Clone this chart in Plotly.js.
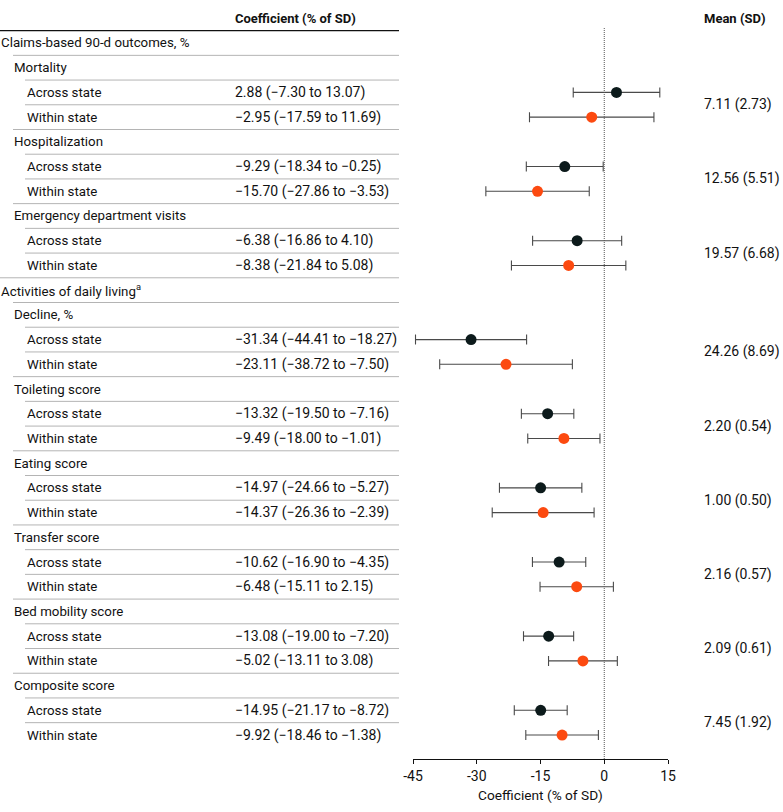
<!DOCTYPE html>
<html>
<head>
<meta charset="utf-8">
<script src="https://cdn.plot.ly/plotly-3.0.1.min.js"></script>
<style>
  html, body { margin: 0; padding: 0; background: #fff; }
  #chart { width: 783px; height: 812px; }
</style>
</head>
<body>
<div id="chart"></div>
<script>
// Section headings and the outcomes inside each section
const sections = ["Claims-based 90-d outcomes, %", "Activities of daily living<sup>a</sup>"];
const outcomeSection = [0, 0, 0, 1, 1, 1, 1, 1, 1];
const outcomes = ["Mortality", "Hospitalization", "Emergency department visits",
  "Decline, %", "Toileting score", "Eating score", "Transfer score",
  "Bed mobility score", "Composite score"];
const comparisons = ["Across state", "Within state"];

// Coefficients (% of SD) with 95% CI
const acrossEst = [2.88, -9.29, -6.38, -31.34, -13.32, -14.97, -10.62, -13.08, -14.95];
const acrossLo  = [-7.30, -18.34, -16.86, -44.41, -19.50, -24.66, -16.90, -19.00, -21.17];
const acrossHi  = [13.07, -0.25, 4.10, -18.27, -7.16, -5.27, -4.35, -7.20, -8.72];
const withinEst = [-2.95, -15.70, -8.38, -23.11, -9.49, -14.37, -6.48, -5.02, -9.92];
const withinLo  = [-17.59, -27.86, -21.84, -38.72, -18.00, -26.36, -15.11, -13.11, -18.46];
const withinHi  = [11.69, -3.53, 5.08, -7.50, -1.01, -2.39, 2.15, 3.08, -1.38];

// Outcome mean (SD)
const meanSD = ["7.11 (2.73)", "12.56 (5.51)", "19.57 (6.68)", "24.26 (8.69)",
  "2.20 (0.54)", "1.00 (0.50)", "2.16 (0.57)", "2.09 (0.61)", "7.45 (1.92)"];

// Axis ticks
const tickVals = [-45, -30, -15, 0, 15];
const tickText = ["-45", "-30", "-15", "0", "15"];

// ---- build table rows ----
const FONT = "Roboto, 'Liberation Sans', Arial, sans-serif";
const TXT = "#111";
const fmt = v => (v < 0 ? "\u2212" : "") + Math.abs(v).toFixed(2);
const ciText = (e, lo, hi) => `${fmt(e)} (${fmt(lo)} to ${fmt(hi)})`;

const rows = []; // {label, indent, ci}
const acrossY = [], withinY = [];
let lastSection = -1;
outcomes.forEach((name, i) => {
  if (outcomeSection[i] !== lastSection) {
    lastSection = outcomeSection[i];
    rows.push({ label: sections[lastSection], indent: 0 });
  }
  rows.push({ label: name, indent: 1 });
  acrossY.push(rows.length);
  rows.push({ label: comparisons[0], indent: 2, ci: ciText(acrossEst[i], acrossLo[i], acrossHi[i]) });
  withinY.push(rows.length);
  rows.push({ label: comparisons[1], indent: 2, ci: ciText(withinEst[i], withinLo[i], withinHi[i]) });
});

// ---- geometry ----
const W = 783, H = 812;
const M = { l: 413, r: 115, t: 27, b: 53 };
const plotW = W - M.l - M.r;
const yTop = -0.647, yBot = 28.97;
const px2paperX = px => (px - M.l) / plotW;
const row2paperY = v => (yBot - v) / (yBot - yTop);

const rulePx = [0, 13, 25];     // where each level's separator starts
const textPx = [-1.5, 11.5, 24.5]; // label anchor per indent level

const annotations = [];
const shapes = [];

rows.forEach((r, j) => {
  annotations.push({
    xref: "paper", yref: "paper", x: px2paperX(textPx[r.indent]), y: row2paperY(j),
    xanchor: "left", yanchor: "middle", showarrow: false, text: r.label,
    font: { family: FONT, size: 13.3, color: TXT }
  });
  if (r.ci) {
    annotations.push({
      xref: "paper", yref: "paper", x: px2paperX(232.5), y: row2paperY(j),
      xanchor: "left", yanchor: "middle", showarrow: false, text: r.ci,
      font: { family: FONT, size: 14, color: TXT }
    });
  }
  if (j > 0) {
    shapes.push({
      type: "line", xref: "paper", yref: "y",
      x0: px2paperX(rulePx[r.indent]), x1: px2paperX(399), y0: j - 0.5, y1: j - 0.5,
      line: { color: "#b4b4b4", width: 1 }
    });
  }
});

// header rule
shapes.push({
  type: "line", xref: "paper", yref: "y",
  x0: px2paperX(0), x1: px2paperX(399), y0: -0.5, y1: -0.5,
  line: { color: "#111", width: 1.3 }
});

// reference line at zero
shapes.push({
  type: "line", xref: "x", yref: "paper", x0: 0, x1: 0, y0: 0, y1: 1,
  line: { color: "#555", width: 1, dash: "1px,1px" }
});

// column headers
annotations.push({
  xref: "paper", yref: "paper", x: px2paperX(233), y: row2paperY(-1.01),
  xanchor: "left", yanchor: "middle", showarrow: false,
  text: "<b>Coefficient (% of SD)</b>", font: { family: FONT, size: 13, color: TXT }
});
annotations.push({
  xref: "paper", yref: "paper", x: px2paperX(701.5), y: row2paperY(-1.01),
  xanchor: "left", yanchor: "middle", showarrow: false,
  text: "<b>Mean (SD)</b>", font: { family: FONT, size: 13, color: TXT }
});

// mean (SD) beside each outcome pair
meanSD.forEach((m, i) => {
  annotations.push({
    xref: "paper", yref: "paper", x: px2paperX(701.5), y: row2paperY((acrossY[i] + withinY[i]) / 2),
    xanchor: "left", yanchor: "middle", showarrow: false, text: m,
    font: { family: FONT, size: 14, color: TXT }
  });
});

const errStyle = { type: "data", symmetric: false, color: "#4a4a4a", thickness: 1.1, width: 5 };

const traces = [
  {
    type: "scatter", mode: "markers", name: "Across state",
    x: acrossEst, y: acrossY,
    error_x: Object.assign({}, errStyle, {
      array: acrossHi.map((h, i) => h - acrossEst[i]),
      arrayminus: acrossLo.map((l, i) => acrossEst[i] - l)
    }),
    marker: { size: 11, color: "#0c1a1b" }, hoverinfo: "x"
  },
  {
    type: "scatter", mode: "markers", name: "Within state",
    x: withinEst, y: withinY,
    error_x: Object.assign({}, errStyle, {
      array: withinHi.map((h, i) => h - withinEst[i]),
      arrayminus: withinLo.map((l, i) => withinEst[i] - l)
    }),
    marker: { size: 11, color: "#fc4a10" }, hoverinfo: "x"
  }
];

const layout = {
  width: W, height: H,
  margin: M,
  paper_bgcolor: "#fff", plot_bgcolor: "rgba(0,0,0,0)",
  showlegend: false,
  font: { family: FONT, size: 13, color: TXT },
  xaxis: {
    range: [-45, 15], tickvals: tickVals, ticktext: tickText,
    showgrid: false, zeroline: false, showline: true, linecolor: "#111", linewidth: 1,
    ticks: "outside", ticklen: 4, tickcolor: "#111", tickwidth: 1,
    tickfont: { family: FONT, size: 14, color: TXT },
    title: { text: "Coefficient (% of SD)", font: { family: FONT, size: 13.7, color: TXT }, standoff: 7 },
    fixedrange: true
  },
  yaxis: {
    range: [yBot, yTop], visible: false, showgrid: false, zeroline: false, fixedrange: true
  },
  shapes: shapes,
  annotations: annotations
};

Plotly.newPlot("chart", traces, layout, { displayModeBar: false, staticPlot: true });
</script>
</body>
</html>
